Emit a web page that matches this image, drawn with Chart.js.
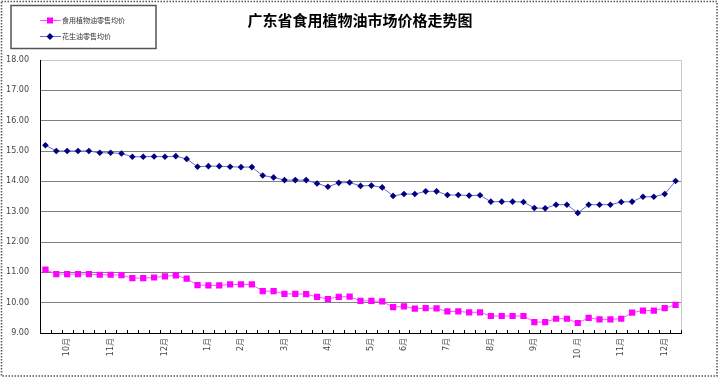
<!DOCTYPE html>
<html><head><meta charset="utf-8">
<script src="https://cdn.jsdelivr.net/npm/chart.js@4.4.1/dist/chart.umd.min.js"></script>
<style>html,body{margin:0;padding:0;background:#fff}canvas{display:block}</style>
</head><body>
<canvas id="c" width="720" height="385"></canvas>
<script>
const chartTitle = '广东省食用植物油市场价格走势图';
const seriesNames = ['食用植物油零售均价', '花生油零售均价'];
const categories = [
  '', '', '10月', '', '', '', '11月', '', '', '', '', '12月', '', '', '', '1月', '', '', '2月', '',
  '', '', '3月', '', '', '', '4月', '', '', '', '5月', '', '', '6月', '', '', '', '7月', '', '',
  '', '8月', '', '', '', '9月', '', '', '', '10 月', '', '', '', '11月', '', '', '', '12月', ''
];
const ediblePrice = [
  11.09, 10.94, 10.94, 10.94, 10.94, 10.92, 10.92, 10.91, 10.81, 10.81,
  10.83, 10.87, 10.90, 10.79, 10.58, 10.57, 10.57, 10.60, 10.60, 10.60,
  10.38, 10.38, 10.29, 10.29, 10.28, 10.19, 10.12, 10.19, 10.20, 10.06,
  10.06, 10.04, 9.85, 9.88, 9.80, 9.82, 9.81, 9.71, 9.71, 9.68,
  9.68, 9.56, 9.56, 9.56, 9.56, 9.36, 9.36, 9.47, 9.47, 9.33,
  9.50, 9.45, 9.45, 9.47, 9.67, 9.74, 9.74, 9.82, 9.93
];
const peanutPrice = [
  15.19, 15.00, 15.00, 15.00, 15.00, 14.94, 14.94, 14.92, 14.81, 14.81,
  14.82, 14.81, 14.83, 14.74, 14.48, 14.50, 14.50, 14.48, 14.47, 14.47,
  14.19, 14.13, 14.04, 14.04, 14.04, 13.93, 13.82, 13.95, 13.96, 13.85,
  13.86, 13.80, 13.52, 13.58, 13.58, 13.67, 13.67, 13.55, 13.55, 13.53,
  13.54, 13.33, 13.33, 13.33, 13.32, 13.12, 13.11, 13.23, 13.23, 12.96,
  13.23, 13.23, 13.23, 13.32, 13.33, 13.49, 13.49, 13.58, 14.01
];
const yMin = 9, yMax = 18, yStep = 1;

const framePlugin = {
  id: 'frame',
  beforeDraw(chart) {
    const ctx = chart.ctx;
    ctx.save();
    ctx.fillStyle = '#fff';
    ctx.fillRect(0, 0, chart.width, chart.height);
    ctx.strokeStyle = '#555';
    ctx.lineWidth = 1.5;
    ctx.setLineDash([1.5, 1.5]);
    ctx.strokeRect(1.5, 1.5, 715.5, 374.5);
    ctx.restore();
  },
  afterDraw(chart) {
    const ctx = chart.ctx;
    const a = chart.chartArea;
    const xs = chart.scales.x;
    ctx.save();
    // title, centred on the whole chart
    ctx.fillStyle = '#000';
    ctx.font = 'bold 15px "Noto Sans CJK SC"';
    ctx.textAlign = 'center';
    ctx.textBaseline = 'middle';
    ctx.fillText(chartTitle, 360, 20);
    // plot-area right border
    ctx.strokeStyle = '#c8c8c8';
    ctx.lineWidth = 1;
    ctx.beginPath();
    ctx.moveTo(Math.round(a.right) + 0.5, a.top);
    ctx.lineTo(Math.round(a.right) + 0.5, a.bottom);
    ctx.stroke();
    // inside tick marks at category boundaries
    ctx.strokeStyle = '#000';
    ctx.beginPath();
    const n = categories.length;
    for (let i = 0; i <= n; i++) {
      let x;
      if (i === 0) x = a.left;
      else if (i === n) x = a.right;
      else x = (xs.getPixelForValue(i - 1) + xs.getPixelForValue(i)) / 2;
      x = Math.round(x) + 0.5;
      ctx.moveTo(x, a.bottom);
      ctx.lineTo(x, a.bottom - 3);
    }
    ctx.stroke();
    // legend box
    ctx.strokeStyle = '#555';
    ctx.lineWidth = 1.5;
    ctx.strokeRect(11, 5.5, 145, 43);
    const rows = [20, 36];
    chart.data.datasets.forEach((ds, k) => {
      const y = rows[k] + 0.5;
      ctx.strokeStyle = ds.borderColor;
      ctx.lineWidth = 1;
      ctx.beginPath();
      ctx.moveTo(40, y); ctx.lineTo(61, y);
      ctx.stroke();
      ctx.fillStyle = ds.pointBackgroundColor;
      const cx = 50;
      if (ds.pointStyle === 'rect') {
        ctx.fillRect(cx - 3, y - 3, 6, 6);
      } else {
        ctx.beginPath();
        ctx.moveTo(cx, y - 3.5); ctx.lineTo(cx + 3.5, y); ctx.lineTo(cx, y + 3.5); ctx.lineTo(cx - 3.5, y);
        ctx.closePath(); ctx.fill();
      }
      ctx.fillStyle = '#333';
      ctx.font = '7px "Noto Sans CJK SC"';
      ctx.textBaseline = 'middle';
      ctx.textAlign = 'left';
      ctx.fillText(ds.label, 62, y);
    });
    ctx.restore();
  }
};

new Chart(document.getElementById('c'), {
  type: 'line',
  data: {
    labels: categories,
    datasets: [
      {
        label: seriesNames[0],
        data: ediblePrice,
        borderColor: '#ff55ff',
        borderWidth: 1,
        pointStyle: 'rect',
        pointRadius: 4.4,
        pointBackgroundColor: '#ff00ff',
        pointBorderColor: '#ff00ff',
        pointBorderWidth: 0,
        tension: 0
      },
      {
        label: seriesNames[1],
        data: peanutPrice,
        borderColor: '#6a6ad0',
        borderWidth: 1,
        pointStyle: 'rectRot',
        pointRadius: 3.3,
        pointBackgroundColor: '#000080',
        pointBorderColor: '#000080',
        pointBorderWidth: 0,
        tension: 0
      }
    ]
  },
  options: {
    responsive: false,
    animation: false,
    devicePixelRatio: 1,
    layout: { padding: { left: 0, right: 39, top: 60, bottom: 0 } },
    plugins: {
      legend: { display: false },
      tooltip: { enabled: false },
      title: { display: false }
    },
    scales: {
      x: {
        type: 'category',
        offset: true,
        grid: { drawOnChartArea: false, drawTicks: false },
        border: { display: true, color: '#000', width: 1 },
        ticks: {
          autoSkip: false, minRotation: 90, maxRotation: 90, padding: 5,
          color: '#444', font: { size: 8, family: '"DejaVu Sans", "Noto Sans CJK SC"' }
        },
        afterFit(s) { s.height = 52; }
      },
      y: {
        min: yMin, max: yMax,
        grid: {
          color: (c) => (c.tick && c.tick.value === yMax ? '#c8c8c8' : '#808080'),
          lineWidth: 1, drawTicks: false
        },
        border: { display: true, color: '#000', width: 1 },
        ticks: {
          stepSize: yStep, padding: 11,
          callback: (v) => Number(v).toFixed(2),
          color: '#444', font: { size: 8, family: '"DejaVu Sans"' }
        },
        afterFit(s) { s.width = 40; }
      }
    }
  },
  plugins: [framePlugin]
});
</script>
</body></html>
